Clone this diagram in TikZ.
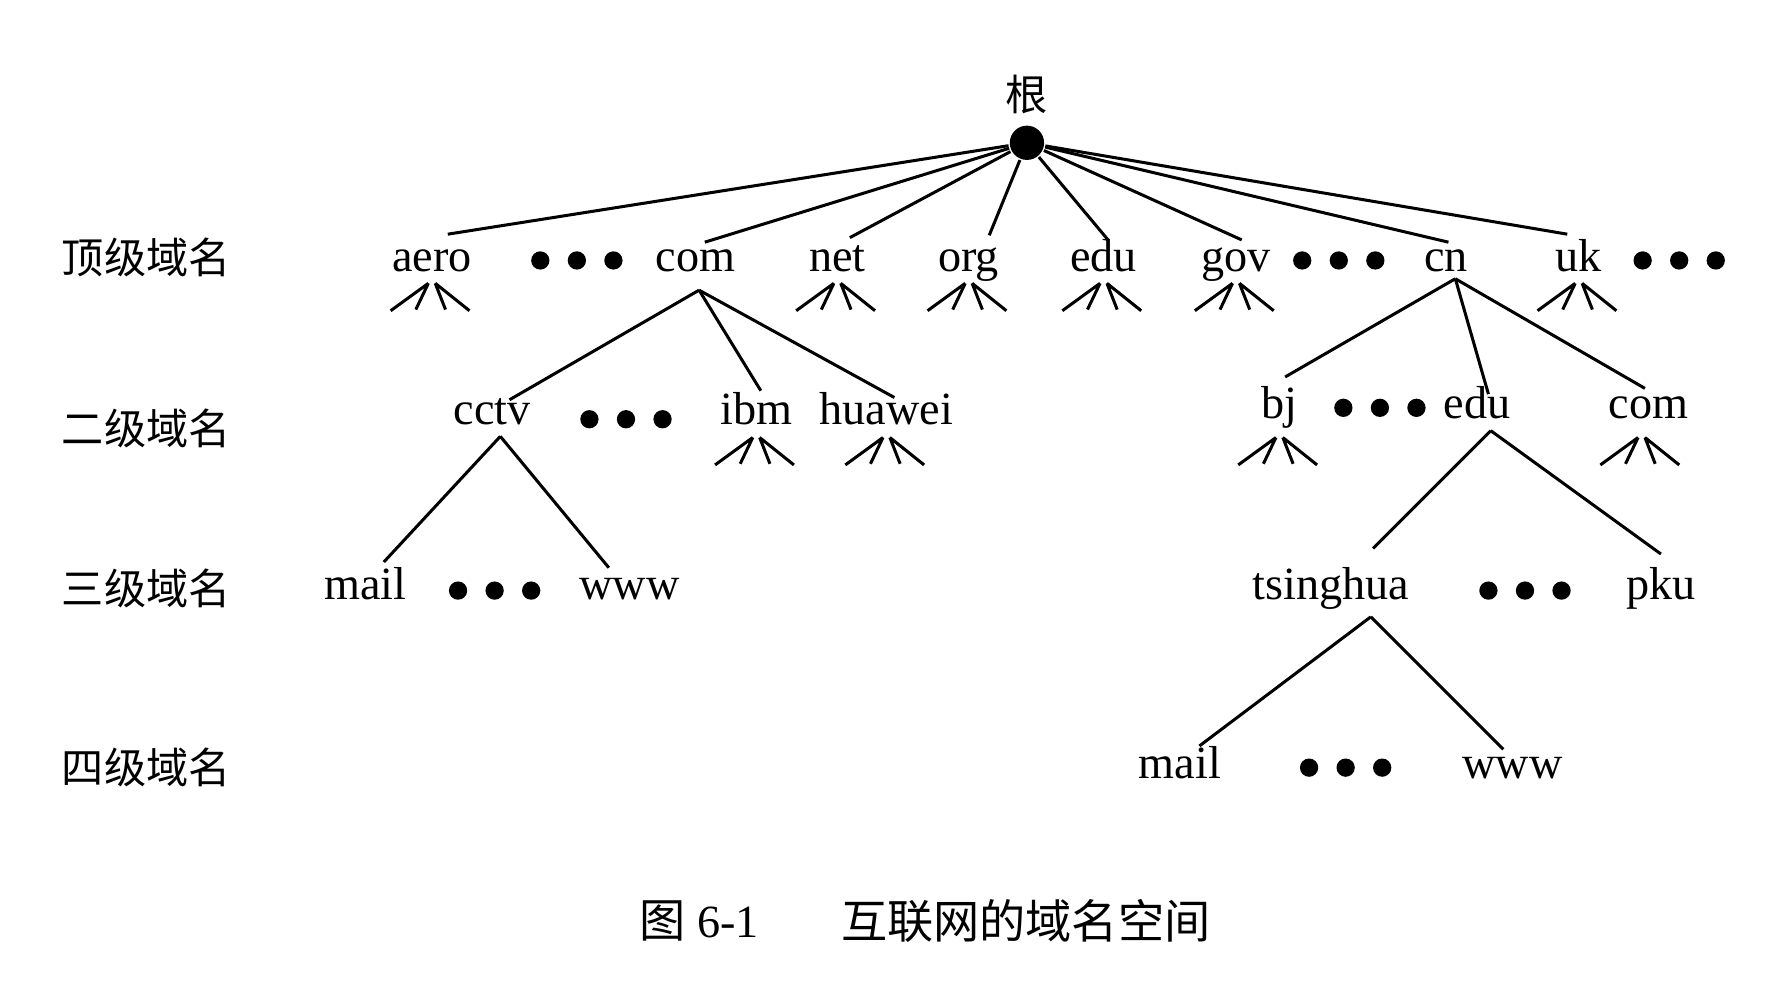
\documentclass[tikz,border=0pt]{standalone}
\usepackage{fontspec}
\setmainfont{Liberation Serif}
\newfontfamily\cjk{Noto Sans CJK SC}
\begin{document}
\begin{tikzpicture}[x=0.01cm,y=-0.01cm,line width=0.75pt,
  lab/.style={font=\fontsize{11.5pt}{12pt}\selectfont,inner sep=0pt,text height=1.5ex,text depth=0.3ex},
  cj/.style={font=\cjk\fontsize{10.5pt}{12pt}\selectfont,inner sep=0pt},
  dotty/.style={circle,fill=black,inner sep=0pt,minimum size=0.16cm},
  fan/.pic={\draw (-3,0)--(-36,24) (-3,0)--(-14,23) (3,0)--(12,23) (3,0)--(33,24);}]
\useasboundingbox (0,0) rectangle (1560,878);
% root
\node[circle,fill=black,inner sep=0pt,minimum size=0.3cm] (root) at (899,125) {};
\node[cj] (rootl) at (899,83) {根};
% level labels
\node[cj] (l1) at (128,225) {顶级域名};
\node[cj] (l2) at (128,375) {二级域名};
\node[cj] (l3) at (128,515) {三级域名};
\node[cj] (l4) at (128,672) {四级域名};
% top level
\foreach \n/\t/\x in {aero/aero/378,com/com/609,net/net/733,org/org/848,edu/edu/966,gov/gov/1082,cn/cn/1266,uk/uk/1382}
  \node[lab] (\n) at (\x,228) {\t};
\foreach \n/\x in {d1/505,d2/1172,d3/1470}
  \foreach \k in {-1,0,1} \node[dotty] (\n\k) at (\x+\k*32,228) {};
\foreach \n/\x/\y in {aero/392/205,com/617/212,net/744/208,org/866/206,edu/970/210,gov/1087/210,cn/1268/212,uk/1372/205}
  \draw (root) -- (\x,\y) coordinate (\n t);
\foreach \x/\y in {378/248,733/248,848/248,966/248,1082/248,1382/248}
  \pic at (\x,\y) {fan};
% second level
\node[lab] (cctv) at (431,362) {cctv};
\node[lab] (ibm) at (662,362) {ibm};
\node[lab] (huawei) at (776,362) {huawei};
\node[lab] (bj) at (1120,357) {bj};
\node[lab] (edu2) at (1293,357) {edu};
\node[lab] (com2) at (1443,357) {com};
\foreach \n/\x/\y in {d4/548/367,d5/1208/357}
  \foreach \k in {-1,0,1} \node[dotty] (\n\k) at (\x+\k*32,\y) {};
\coordinate (comb) at (612,254);
\draw (comb) -- (446,350) coordinate (a1);
\draw (comb) -- (666,342) coordinate (a2);
\draw (comb) -- (783,348) coordinate (a3);
\coordinate (cnb) at (1274,244);
\draw (cnb) -- (1125,330) coordinate (a4);
\draw (cnb) -- (1303,345) coordinate (a5);
\draw (cnb) -- (1440,340) coordinate (a6);
\foreach \x/\y in {662/383,776/383,1120/383,1437/383}
  \pic at (\x,\y) {fan};
% third level
\node[lab] (mail3) at (320,515) {mail};
\node[lab] (www3) at (551,515) {www};
\node[lab] (tsing) at (1165,515) {tsinghua};
\node[lab] (pku) at (1454,515) {pku};
\foreach \n/\x in {d6/433,d7/1335}
  \foreach \k in {-1,0,1} \node[dotty] (\n\k) at (\x+\k*32,517) {};
\coordinate (cctvb) at (438,382);
\draw (cctvb) -- (336,492) coordinate (b1);
\draw (cctvb) -- (533,497) coordinate (b2);
\coordinate (edub) at (1305,377);
\draw (edub) -- (1202,480) coordinate (b3);
\draw (edub) -- (1454,485) coordinate (b4);
% fourth level
\node[lab] (mail4) at (1033,672) {mail};
\node[lab] (www4) at (1324,672) {www};
\foreach \k in {-1,0,1} \node[dotty] (d8\k) at (1178+\k*32,672) {};
\coordinate (tsb) at (1200,540);
\draw (tsb) -- (1050,653) coordinate (c1);
\draw (tsb) -- (1316,656) coordinate (c2);
% caption
\node[font=\fontsize{11.5pt}{12pt}\selectfont,inner sep=0pt] (cap1) at (612,806) {{\cjk 图} 6-1};
\node[cj,font=\cjk\fontsize{11.5pt}{12pt}\selectfont] (cap2) at (898,806) {互联网的域名空间};
\end{tikzpicture}
\end{document}
